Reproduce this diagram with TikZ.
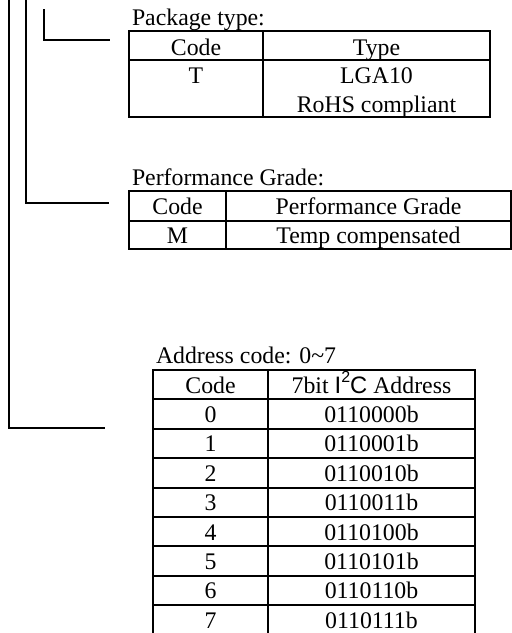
\documentclass[tikz,border=0pt]{standalone}
\usepackage{fontspec}
\setmainfont{Liberation Serif}
\newfontfamily\sansfont{Liberation Sans}
\begin{document}
\begin{tikzpicture}[x=0.5pt, y=-0.5pt, line width=1pt, font=\fontsize{11.9}{14}\selectfont,
	cell/.style={anchor=base, inner sep=0pt},
	title/.style={anchor=base west, inner sep=0pt}]
	\def\rh{29.4}
	\useasboundingbox (0,0) rectangle (512,633);
	% brackets
	\draw (9,0) -- (9,428) -- (105,428);
	\draw (26,0) -- (26,203) -- (109,203);
	\draw (44,9) -- (44,40) -- (110,40);
	% package type
	\node[title] (pkg) at (131,25) {Package type:};
	\draw (129,31) rectangle (490,117) (129,60) -- (490,60) (263,31) -- (263,117);
	\path
	(196,55) node[cell] (pkgcode) {Code}
	(376.5,55) node[cell] (pkgtype) {Type}
	(196,83) node[cell] (pkgT) {T}
	(376.5,83) node[cell] (pkglga) {LGA10}
	(376.5,112) node[cell] (pkgrohs) {RoHS compliant};
	% performance grade
	\node[title] (perf) at (131,185) {Performance Grade:};
	\draw (129,191) rectangle (511,249) (129,221) -- (511,221) (226,191) -- (226,249);
	\path
	(177.5,214) node[cell] (perfcode) {Code}
	(368.5,214) node[cell] (perfgrade) {Performance Grade}
	(177.5,243) node[cell] (perfM) {M}
	(368.5,243) node[cell] (perftemp) {Temp compensated};
	% address code
	\node[title] (addr) at (155,363) {Address code: 0\char`~7};
	\draw (153,633) -- (153,370) -- (475,370) -- (475,633) (268,370) -- (268,633);
	\foreach \i in {1,...,8} \draw (153,{370+\rh*\i}) -- (475,{370+\rh*\i});
	\path
	(210.5,393) node[cell] (addrcode) {Code}
	(371.5,393) node[cell] (addrbits) {7bit {\sansfont I\raisebox{0.85ex}{\fontsize{8}{9}\selectfont 2}C} Address};
	\foreach \c/\a [count=\i] in {0/0110000b,1/0110001b,2/0110010b,3/0110011b,4/0110100b,5/0110101b,6/0110110b,7/0110111b}
	{
		\node[cell] (code\c) at (210.5,{393+\rh*\i}) {\c};
		\node[cell] (bits\c) at (371.5,{393+\rh*\i}) {\a};
	}
\end{tikzpicture}
\end{document}
